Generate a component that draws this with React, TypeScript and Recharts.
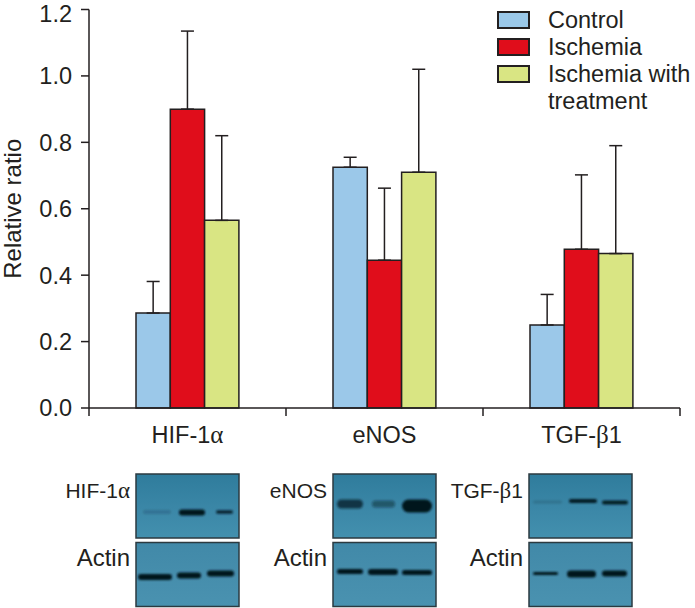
import { BarChart, Bar, XAxis, YAxis, ErrorBar, Label } from 'recharts'

const categories = ['HIF-1', 'eNOS', 'TGF-']
const greek = ['α', '', 'β']
const suffix = ['', '', '1']
const control = [0.286, 0.725, 0.25]
const ischemia = [0.9, 0.445, 0.478]
const treatment = [0.565, 0.71, 0.465]
const controlErr = [0.095, 0.03, 0.092]
const ischemiaErr = [0.235, 0.217, 0.224]
const treatmentErr = [0.255, 0.31, 0.325]
const yTicks = [0, 0.2, 0.4, 0.6, 0.8, 1.0, 1.2]

const seriesNames = ['Control', 'Ischemia', 'Ischemia with treatment']
const seriesColors = ['#9bc8e9', '#e00d1b', '#d9e583']

const INK = '#231f20'
const FONT = '"Liberation Sans", Arial, sans-serif'
const BAND = 197

const data = categories.map((name, i) => ({
  name,
  control: control[i],
  ischemia: ischemia[i],
  treatment: treatment[i],
  controlErr: [0, controlErr[i]],
  ischemiaErr: [0, ischemiaErr[i]],
  treatmentErr: [0, treatmentErr[i]],
}))

function CategoryTick({ x, y, payload, index }: any) {
  const i = index ?? categories.indexOf(payload.value)
  return (
    <g>
      <line x1={x - BAND / 2} x2={x - BAND / 2} y1={y - 8} y2={y} stroke={INK} strokeWidth={1.5} />
      {i === categories.length - 1 && (
        <line x1={x + BAND / 2} x2={x + BAND / 2} y1={y - 8} y2={y} stroke={INK} strokeWidth={1.5} />
      )}
      <text x={x} y={y + 27} textAnchor="middle" fontFamily={FONT} fontSize={23.5} fill={INK}>
        {payload.value}
        {greek[i] && <tspan fontFamily='"Liberation Serif", serif' fontSize={25}>{greek[i]}</tspan>}
        {suffix[i]}
      </text>
    </g>
  )
}

function ChartLegend() {
  return (
    <div style={{ position: 'absolute', left: 497, top: 7, fontFamily: FONT, fontSize: 23.5, lineHeight: '27px', color: INK, width: 198 }}>
      {seriesNames.map((name, i) => (
        <div key={name} style={{ position: 'relative', paddingLeft: 51 }}>
          <span
            style={{
              position: 'absolute',
              left: 0,
              top: 4,
              width: 29,
              height: 14,
              background: seriesColors[i],
              border: `2px solid ${INK}`,
            }}
          />
          {name}
        </div>
      ))}
    </div>
  )
}

// western blot strips under the chart: [x, y, width, height, opacity]
const blots = [
  {
    label: 'HIF-1', greek: 'α', labelX: 130, x: 136,
    top: [[143, 512, 28, 4, 0.16], [179, 512.5, 26, 6, 1], [216, 512, 17, 3.5, 0.85]],
    actin: [[138, 577, 34, 6, 1], [177, 575.5, 24, 6, 1], [207, 573.5, 27, 6, 1]],
  },
  {
    label: 'eNOS', greek: '', labelX: 327, x: 333,
    top: [[337, 504, 26, 9, 0.7], [372, 504, 23, 7, 0.42], [402, 506, 30, 13, 1]],
    actin: [[337, 571.5, 26, 5, 1], [368, 572, 30, 6, 1], [402, 572.5, 30, 5, 1]],
  },
  {
    label: 'TGF-', greek: 'β', suffix: '1', labelX: 523, x: 529,
    top: [[533, 502, 29, 3, 0.14], [569, 501, 28, 4, 0.95], [602, 502.5, 26, 4, 0.95]],
    actin: [[533, 573.5, 25, 3, 1], [567, 574, 29, 7, 1], [602, 573.5, 25, 6, 1]],
  },
]

function Panel({ x, y, h, bands, fill }: any) {
  return (
    <g>
      <rect x={x} y={y} width={103} height={h} fill={fill} />
      <g filter="url(#bandBlur)">
        {bands.map((b: number[], i: number) => (
          <rect key={i} x={b[0]} y={b[1] - b[3] / 2} width={b[2]} height={b[3]} rx={b[3] / 2} fill="#04141f" opacity={b[4]} />
        ))}
      </g>
      <rect x={x} y={y} width={103} height={h} fill="none" stroke="#2b3a40" strokeWidth={1.5} />
    </g>
  )
}

function Blots() {
  return (
    <svg width={695} height={608} style={{ position: 'absolute', left: 0, top: 0, pointerEvents: 'none' }}>
      <defs>
        <linearGradient id="blotTop" x1="0" y1="0" x2="0" y2="1">
          <stop offset="0" stopColor="#2f7c9c" />
          <stop offset="0.6" stopColor="#3c88a8" />
          <stop offset="1" stopColor="#4390ae" />
        </linearGradient>
        <linearGradient id="blotActin" x1="0" y1="0" x2="0" y2="1">
          <stop offset="0" stopColor="#4189a8" />
          <stop offset="1" stopColor="#4a92b0" />
        </linearGradient>
        <filter id="bandBlur" x="-20%" y="-50%" width="140%" height="200%">
          <feGaussianBlur stdDeviation="1.2" />
        </filter>
      </defs>
      {blots.map((b) => (
        <g key={b.label}>
          <Panel x={b.x} y={474} h={64} bands={b.top} fill="url(#blotTop)" />
          <Panel x={b.x} y={542.5} h={64} bands={b.actin} fill="url(#blotActin)" />
          <text x={b.labelX} y={498} textAnchor="end" fontFamily={FONT} fontSize={21} fill={INK}>
            {b.label}
            {b.greek && <tspan fontFamily='"Liberation Serif", serif' fontSize={23}>{b.greek}</tspan>}
            {b.suffix}
          </text>
          <text x={b.labelX} y={566} textAnchor="end" fontFamily={FONT} fontSize={24} fill={INK}>
            Actin
          </text>
        </g>
      ))}
    </svg>
  )
}

export default function App() {
  return (
    <div style={{ position: 'absolute', left: 0, top: 0, width: 695, height: 608, background: '#fff' }}>
      <BarChart
        width={695}
        height={608}
        data={data}
        margin={{ top: 9.5, right: 15, bottom: 140, left: 0 }}
        barSize={34.3}
        barGap={0}
        barCategoryGap={0}
      >
        <XAxis
          dataKey="name"
          height={60}
          axisLine={{ stroke: INK, strokeWidth: 1.5 }}
          tickLine={false}
          tick={<CategoryTick />}
          interval={0}
        />
        <YAxis
          width={89}
          domain={[0, 1.2]}
          ticks={yTicks}
          tickFormatter={(v: number) => v.toFixed(1)}
          axisLine={{ stroke: INK, strokeWidth: 1.5 }}
          tickLine={{ stroke: INK, strokeWidth: 1.5 }}
          tickSize={8}
          tickMargin={9}
          tick={{ fill: INK, fontFamily: FONT, fontSize: 23.5 }}
        >
          <Label
            value="Relative ratio"
            angle={-90}
            position="insideLeft"
            offset={0}
            dx={12}
            style={{ fill: INK, fontFamily: FONT, fontSize: 24, textAnchor: 'middle' }}
          />
        </YAxis>
        <Bar dataKey="control" fill={seriesColors[0]} stroke={INK} strokeWidth={1.5} isAnimationActive={false}>
          <ErrorBar dataKey="controlErr" direction="y" width={6.5} stroke={INK} strokeWidth={1.5} isAnimationActive={false} />
        </Bar>
        <Bar dataKey="ischemia" fill={seriesColors[1]} stroke={INK} strokeWidth={1.5} isAnimationActive={false}>
          <ErrorBar dataKey="ischemiaErr" direction="y" width={6.5} stroke={INK} strokeWidth={1.5} isAnimationActive={false} />
        </Bar>
        <Bar dataKey="treatment" fill={seriesColors[2]} stroke={INK} strokeWidth={1.5} isAnimationActive={false}>
          <ErrorBar dataKey="treatmentErr" direction="y" width={6.5} stroke={INK} strokeWidth={1.5} isAnimationActive={false} />
        </Bar>
      </BarChart>
      <ChartLegend />
      <Blots />
    </div>
  )
}
